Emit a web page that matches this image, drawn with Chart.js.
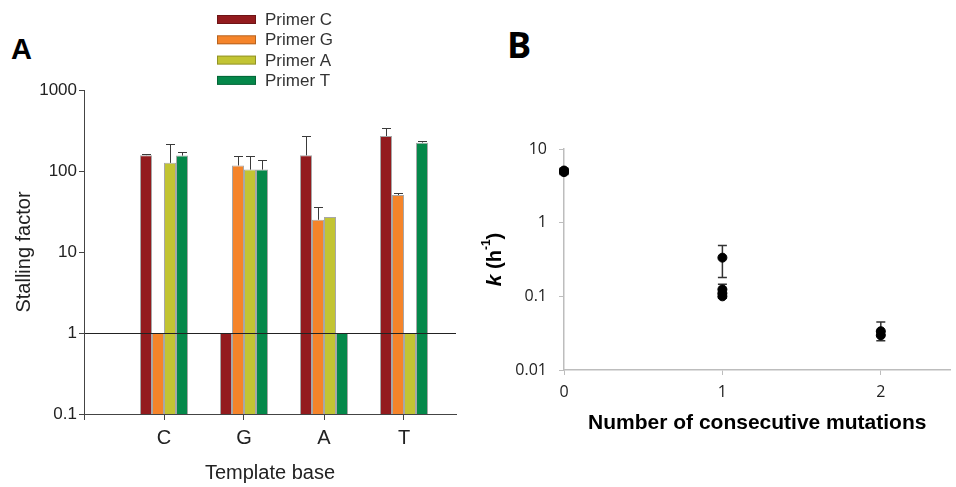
<!DOCTYPE html>
<html>
<head>
<meta charset="utf-8">
<script src="https://cdn.jsdelivr.net/npm/chart.js@4.4.1/dist/chart.umd.min.js"></script>
<style>
  body { margin: 0; background: #fff; width: 956px; height: 487px; position: relative; overflow: hidden; }
  canvas { position: absolute; top: 0; }
  #chartA { left: 0; }
  #chartB { left: 480px; }
  .panel { position: absolute; color: #000; font-weight: bold; }
</style>
</head>
<body>
<div class="panel" style="left:11px; top:35px; font-family:'Liberation Sans', Arial; font-size:29px; line-height:29px;">A</div>
<div class="panel" style="left:507px; top:27px; font-family:'Open Sans'; font-size:36px; line-height:36px;">B</div>
<canvas id="chartA" width="480" height="487"></canvas>
<canvas id="chartB" width="476" height="487"></canvas>
<script>
// panel A: stalling factor per template base
var templateBases = ['C', 'G', 'A', 'T'];
var primerNames = ['Primer C', 'Primer G', 'Primer A', 'Primer T'];
var primerColors = ['#931b1e', '#f5842a', '#c2c433', '#05884a'];
var primerC = [157, 1, 156, 270];
var primerG = [1, 117, 25, 50.5];
var primerA = [126, 104, 27, 1];
var primerT = [155, 104, 1, 224];
// top of the error bar (null = none drawn)
var primerCTop = [162, null, 273, 336];
var primerGTop = [null, 155, 35.6, 53];
var primerATop = [213, 155, null, null];
var primerTTop = [172, 137, null, 232];
var stallTicks = [0.1, 1, 10, 100, 1000];

// panel B: rate constant vs consecutive mutations
var mutations = [0, 0, 0, 1, 1, 1, 1, 2, 2];
var kRate = [5.0, 4.85, 5.1, 0.335, 0.124, 0.11, 0.1, 0.0336, 0.0296];
var kLow = [4.6, 4.5, 4.7, 0.18, 0.11, 0.098, 0.094, 0.03, 0.025];
var kHigh = [5.4, 5.2, 5.5, 0.49, 0.146, 0.125, 0.108, 0.045, 0.033];
var kTicks = [0.01, 0.1, 1, 10];
var mutationTicks = [0, 1, 2];

var primerValues = [primerC, primerG, primerA, primerT];
var primerTops = [primerCTop, primerGTop, primerATop, primerTTop];

var errorBarsA = {
  id: 'errorBarsA',
  afterDatasetsDraw: function(chart) {
    var ctx = chart.ctx, y = chart.scales.y;
    ctx.save();
    ctx.strokeStyle = '#3a3a3a';
    ctx.lineWidth = 1;
    chart.data.datasets.forEach(function(ds, i) {
      chart.getDatasetMeta(i).data.forEach(function(bar, j) {
        var top = ds.errTop[j];
        if (top == null) return;
        var yt = Math.round(y.getPixelForValue(top)) + 0.5;
        var x = Math.round(bar.x) + 0.5;
        ctx.beginPath();
        ctx.moveTo(x, bar.y);
        ctx.lineTo(x, yt);
        ctx.moveTo(x - 4.5, yt);
        ctx.lineTo(x + 4.5, yt);
        ctx.stroke();
      });
    });
    ctx.restore();
  }
};

var legendA = {
  id: 'legendA',
  afterDraw: function(chart) {
    var ctx = chart.ctx;
    ctx.save();
    ctx.font = "17px 'Liberation Sans', Arial";
    ctx.textBaseline = 'middle';
    chart.data.datasets.forEach(function(ds, i) {
      var yc = 19.5 + i * 20.3;
      ctx.fillStyle = ds.backgroundColor;
      ctx.fillRect(217, yc - 4.5, 39, 9);
      ctx.strokeStyle = 'rgba(0,0,0,0.25)';
      ctx.strokeRect(217.5, yc - 4, 38, 8);
      ctx.fillStyle = '#333';
      ctx.fillText(ds.label, 265, yc + 1);
    });
    ctx.restore();
  }
};

new Chart(document.getElementById('chartA'), {
  type: 'bar',
  data: {
    datasets: primerNames.map(function(name, i) {
      return {
        label: name,
        data: templateBases.map(function(b, j) { return { x: j + 1, y: primerValues[i][j] }; }),
        errTop: primerTops[i],
        backgroundColor: primerColors[i],
        borderColor: 'rgba(60,60,60,0.45)',
        borderWidth: 1,
        categoryPercentage: 0.6,
        barPercentage: 1.0
      };
    })
  },
  options: {
    responsive: false,
    animation: false,
    layout: { padding: { left: 0, top: 90, right: 24, bottom: 0 } },
    plugins: { legend: { display: false }, tooltip: { enabled: false } },
    scales: {
      x: {
        type: 'linear',
        offset: false,
        min: 0,
        max: 4.65,
        afterBuildTicks: function(s) {
          s.ticks = [0].concat(templateBases.map(function(b, j) { return j + 1; })).map(function(v) { return { value: v }; });
        },
        afterFit: function(s) { s.height = 73; },
        ticks: {
          autoSkip: false,
          maxRotation: 0,
          color: '#222',
          font: { family: "'Liberation Sans', Arial", size: 20 },
          padding: 6,
          callback: function(v) { return templateBases[v - 1] || ''; }
        },
        grid: { offset: false, drawOnChartArea: false, drawTicks: true, tickLength: 6, tickColor: '#444' },
        border: { display: true, color: '#444', width: 1 },
        title: {
          display: true,
          text: 'Template base',
          color: '#222',
          font: { family: "'Liberation Sans', Arial", size: 20 },
          padding: { top: 0, bottom: 2 }
        }
      },
      y: {
        type: 'logarithmic',
        min: 0.1,
        max: 1000,
        afterBuildTicks: function(s) {
          s.ticks = stallTicks.map(function(v) { return { value: v }; });
        },
        afterFit: function(s) { s.width = 84; },
        ticks: {
          color: '#222',
          font: { family: "'Liberation Sans', Arial", size: 17 },
          padding: 2,
          callback: function(v) { return String(v); }
        },
        grid: {
          z: 1,
          drawOnChartArea: true,
          tickLength: 5,
          tickColor: '#444',
          color: function(c) { return c.tick && c.tick.value === 1 ? '#222' : 'rgba(0,0,0,0)'; }
        },
        border: { display: true, z: 1, color: '#444', width: 1 },
        title: {
          display: true,
          text: 'Stalling factor',
          color: '#222',
          font: { family: "'Liberation Sans', Arial", size: 20 },
          padding: { top: 12, bottom: 0 }
        }
      }
    }
  },
  plugins: [errorBarsA, legendA]
});

var errorBarsB = {
  id: 'errorBarsB',
  beforeDatasetsDraw: function(chart) {
    var ctx = chart.ctx, xs = chart.scales.x, ys = chart.scales.y;
    ctx.save();
    ctx.strokeStyle = '#333';
    ctx.lineWidth = 1.5;
    mutations.forEach(function(m, i) {
      var x = xs.getPixelForValue(m);
      var y1 = ys.getPixelForValue(kLow[i]), y2 = ys.getPixelForValue(kHigh[i]);
      ctx.beginPath();
      ctx.moveTo(x, y1); ctx.lineTo(x, y2);
      ctx.moveTo(x - 4.5, y1); ctx.lineTo(x + 4.5, y1);
      ctx.moveTo(x - 4.5, y2); ctx.lineTo(x + 4.5, y2);
      ctx.stroke();
    });
    ctx.restore();
  }
};

var kTitle = {
  id: 'kTitle',
  afterDraw: function(chart) {
    var ctx = chart.ctx, a = chart.chartArea;
    var parts = [
      { t: 'k', f: "italic bold 21px 'Liberation Sans', Arial", dy: 0 },
      { t: ' (h', f: "bold 20px 'Liberation Sans', Arial", dy: 0 },
      { t: '-1', f: "bold 12px 'Liberation Sans', Arial", dy: -8 },
      { t: ')', f: "bold 20px 'Liberation Sans', Arial", dy: 0 }
    ];
    ctx.save();
    var total = 0;
    parts.forEach(function(p) { ctx.font = p.f; p.w = ctx.measureText(p.t).width; total += p.w; });
    ctx.translate(9, (a.top + a.bottom) / 2);
    ctx.rotate(-Math.PI / 2);
    ctx.fillStyle = '#000';
    ctx.textBaseline = 'middle';
    var x = -total / 2;
    parts.forEach(function(p) {
      ctx.font = p.f;
      ctx.fillText(p.t, x, p.dy + 6);
      x += p.w;
    });
    ctx.restore();
  }
};

new Chart(document.getElementById('chartB'), {
  type: 'scatter',
  data: {
    datasets: [{
      label: 'k',
      data: mutations.map(function(m, i) { return { x: m, y: kRate[i] }; }),
      backgroundColor: '#000',
      borderColor: '#000',
      pointRadius: 4.5,
      clip: false
    }]
  },
  options: {
    responsive: false,
    animation: false,
    layout: { padding: { left: 0, top: 149, right: 0, bottom: 47 } },
    plugins: { legend: { display: false }, tooltip: { enabled: false } },
    scales: {
      x: {
        type: 'linear',
        min: 0,
        max: 2.44,
        afterBuildTicks: function(s) {
          s.ticks = mutationTicks.map(function(v) { return { value: v }; });
        },
        afterFit: function(s) { s.height = 70; },
        ticks: {
          color: '#222',
          font: { family: "'Open Sans'", size: 16 },
          padding: 8,
          callback: function(v) { return String(v); }
        },
        grid: { drawOnChartArea: false, tickLength: 5, tickColor: '#bdbdbd' },
        border: { display: true, color: '#bdbdbd', width: 1.5 },
        title: {
          display: true,
          text: 'Number of consecutive mutations',
          color: '#000',
          font: { family: "'Liberation Sans', Arial", size: 21, weight: 'bold' },
          padding: { top: 0, bottom: 4 }
        }
      },
      y: {
        type: 'logarithmic',
        min: 0.01,
        max: 10,
        afterBuildTicks: function(s) {
          s.ticks = kTicks.map(function(v) { return { value: v }; });
        },
        afterFit: function(s) { s.width = 84; },
        ticks: {
          color: '#222',
          font: { family: "'Open Sans'", size: 16 },
          padding: 12,
          callback: function(v) { return String(v); }
        },
        grid: { drawOnChartArea: false, tickLength: 5, tickColor: '#bdbdbd' },
        border: { display: true, color: '#bdbdbd', width: 1.5 }
      }
    }
  },
  plugins: [errorBarsB, kTitle]
});
</script>
</body>
</html>
